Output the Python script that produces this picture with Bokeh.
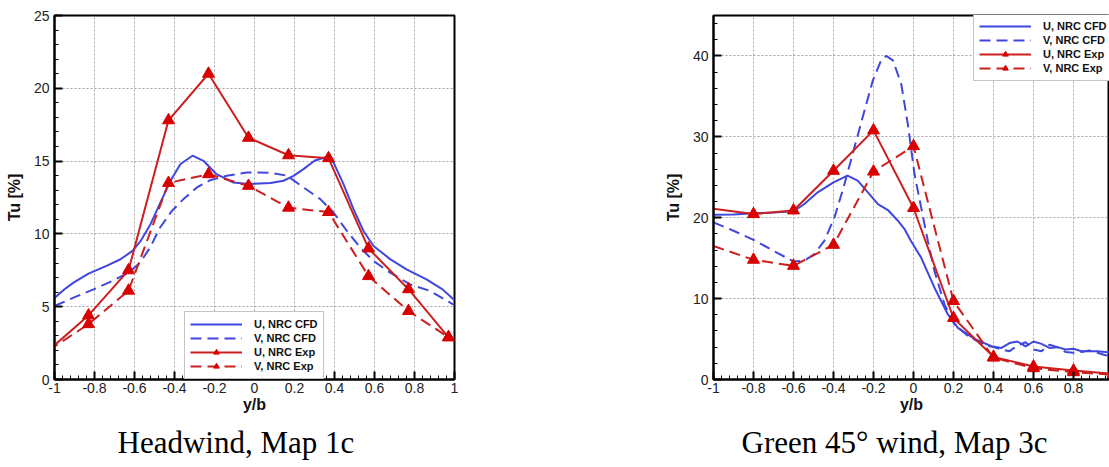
import numpy as np
from bokeh.plotting import figure
from bokeh.models import (Range1d, FixedTicker, NumeralTickFormatter, Legend,
                          LegendItem, Title)
from bokeh.layouts import row
from bokeh.embed import file_html
from bokeh.resources import INLINE

# ---------------- Headwind, Map 1c ----------------
head_exp_x = [-1.03, -0.83, -0.63, -0.43, -0.23, -0.03, 0.17, 0.37, 0.57, 0.77, 0.97]
head_exp_u = [2.0, 4.4, 7.5, 17.8, 21.0, 16.6, 15.4, 15.2, 9.0, 6.2, 2.9]
head_exp_v = [2.0, 3.8, 6.1, 13.5, 14.1, 13.3, 11.8, 11.5, 7.1, 4.7, 2.9]

head_cfd_u_x = [-1.0, -0.95, -0.905, -0.83, -0.74, -0.67, -0.61, -0.57, -0.52, -0.47,
                -0.42, -0.37, -0.31, -0.255, -0.19, -0.105, -0.03, 0.08, 0.145, 0.195,
                0.245, 0.30, 0.35, 0.395, 0.445, 0.495, 0.545, 0.595, 0.68, 0.76,
                0.86, 0.94, 1.0]
head_cfd_u = [5.6, 6.2, 6.65, 7.27, 7.8, 8.26, 8.83, 9.5, 10.67, 12.16,
              13.65, 14.8, 15.37, 15.02, 14.1, 13.53, 13.42, 13.49, 13.65, 13.99,
              14.45, 15.02, 15.25, 14.91, 13.42, 11.7, 10.2, 9.17, 8.25, 7.57,
              6.88, 6.19, 5.45]

head_cfd_v_x = [-1.0, -0.905, -0.805, -0.705, -0.63, -0.572, -0.522, -0.472, -0.413,
                -0.355, -0.288, -0.222, -0.138, -0.038, 0.078, 0.162, 0.245, 0.329,
                0.395, 0.462, 0.529, 0.595, 0.678, 0.778, 0.878, 1.0]
head_cfd_v = [5.05, 5.62, 6.19, 6.81, 7.34, 8.03, 9.06, 10.44, 11.58,
              12.39, 13.19, 13.69, 13.99, 14.22, 14.2, 14.0, 13.19, 12.39,
              11.47, 10.2, 9.06, 8.14, 7.34, 6.53, 6.08, 5.1]

# ---------------- Green 45 deg wind, Map 3c ----------------
green_exp_x = [-1.0, -0.8, -0.6, -0.4, -0.2, 0.0, 0.2, 0.4, 0.6, 0.8, 1.0]
green_exp_u = [21.1, 20.45, 20.9, 25.8, 30.8, 21.2, 7.6, 2.8, 1.6, 1.1, 0.7]
green_exp_v = [16.5, 14.8, 14.05, 16.65, 25.7, 28.85, 9.7, 2.7, 1.4, 0.9, 0.6]

green_cfd_u_x = [-1.0, -0.9, -0.8, -0.7, -0.6, -0.546, -0.479, -0.4, -0.33, -0.279,
                 -0.228, -0.178, -0.128, -0.078, -0.045, -0.012, 0.038, 0.105, 0.172,
                 0.222, 0.305, 0.39, 0.44, 0.48, 0.52, 0.56, 0.60, 0.64, 0.68, 0.72,
                 0.76, 0.80, 0.84, 0.88, 0.92, 0.96, 1.0]
green_cfd_u = [20.37, 20.41, 20.54, 20.66, 20.79, 21.7, 23.14, 24.38, 25.2, 24.59,
               23.14, 21.69, 20.95, 19.63, 18.6, 17.1, 15.07, 11.35, 8.04,
               6.39, 5.02, 4.11, 3.9, 4.5, 4.7, 4.1, 4.7, 4.4, 3.9, 4.0,
               3.7, 3.8, 3.5, 3.5, 3.5, 3.4, 3.3]

green_cfd_v_x = [-1.0, -0.9, -0.8, -0.7, -0.6, -0.546, -0.496, -0.446, -0.395, -0.345,
                 -0.295, -0.245, -0.203, -0.162, -0.137, -0.103, -0.061, -0.028, 0.005,
                 0.038, 0.072, 0.105, 0.155, 0.205, 0.272, 0.355, 0.40, 0.44, 0.48,
                 0.52, 0.56, 0.60, 0.64, 0.68, 0.72, 0.76, 0.80, 0.84, 0.88, 0.92,
                 0.96, 1.0]
green_cfd_v = [19.42, 18.39, 17.27, 15.9, 14.59, 14.67, 15.5, 17.15, 20.04, 24.17,
               28.72, 33.26, 36.98, 39.46, 40.0, 39.46, 36.5, 31.5, 25.4,
               21.3, 17.1, 13.4, 9.29, 6.8, 5.37, 4.25, 4.0, 3.7, 3.5,
               4.2, 4.6, 3.7, 3.5, 4.3, 4.0, 3.4, 3.3, 3.4, 3.6, 3.3,
               3.0, 3.0]

x_ticks = [-1, -0.8, -0.6, -0.4, -0.2, 0, 0.2, 0.4, 0.6, 0.8, 1]
head_y_ticks = [0, 5, 10, 15, 20, 25]
green_y_ticks = [0, 10, 20, 30, 40]

series_labels = ["U, NRC CFD", "V, NRC CFD", "U, NRC Exp", "V, NRC Exp"]
captions = ["Headwind, Map 1c", "Green 45\u00b0 wind, Map 3c"]

BLUE = "#3f47dc"
RED = "#cc1f1f"
MARK = "#d80000"
SANS = "Liberation Sans"


def style_axes(p, y_ticks, y_minor_step, x_end):
    p.xaxis.ticker = FixedTicker(ticks=x_ticks,
                                 minor_ticks=list(np.round(np.arange(-1, x_end + 1e-9, 0.04), 2)))
    p.yaxis.ticker = FixedTicker(ticks=y_ticks,
                                 minor_ticks=list(np.arange(0, y_ticks[-1] + 6, y_minor_step)))
    p.xaxis.formatter = NumeralTickFormatter(format="0.[0]")
    for ax in (p.xaxis[0], p.yaxis[0]):
        ax.major_tick_in = 8
        ax.major_tick_out = 0
        ax.minor_tick_in = 4
        ax.minor_tick_out = 0
        ax.major_tick_line_width = 2
        ax.minor_tick_line_width = 1
        ax.axis_line_width = 2
        ax.major_label_text_font = SANS
        ax.major_label_text_font_size = "14px"
        ax.major_label_text_color = "#222222"
        ax.axis_label_text_font = SANS
        ax.axis_label_text_font_style = "bold"
        ax.axis_label_text_font_size = "16px"
        ax.axis_label_text_color = "#111111"
    p.xaxis.major_label_standoff = 3
    p.xaxis.axis_label_standoff = 0
    p.yaxis.major_label_standoff = 5
    p.yaxis.axis_label_standoff = 8
    p.xaxis.axis_label = "y/b"
    p.yaxis.axis_label = "Tu [%]"
    p.grid.grid_line_color = "#a4a4a4"
    p.grid.grid_line_dash = "2 2"
    p.grid.grid_line_width = 1
    p.outline_line_color = "black"
    p.outline_line_width = 2
    p.outline_line_alpha = 1


def draw_series(p, cu_x, cu, cv_x, cv, ex, eu, ev):
    r_cu = p.line(cu_x, cu, line_color=BLUE, line_width=2)
    r_cv = p.line(cv_x, cv, line_color=BLUE, line_width=2, line_dash="11 6")
    r_eu = p.line(ex, eu, line_color=RED, line_width=2)
    m_eu = p.scatter(ex[1:], eu[1:], marker="triangle", size=12,
                     fill_color=MARK, line_color=MARK)
    r_ev = p.line(ex, ev, line_color=RED, line_width=2, line_dash="11 6")
    m_ev = p.scatter(ex[1:], ev[1:], marker="triangle", size=12,
                     fill_color=MARK, line_color=MARK)
    return [[r_cu], [r_cv], [r_eu, m_eu], [r_ev, m_ev]]


def add_legend(p, groups, loc):
    items = [LegendItem(label=lab, renderers=g) for lab, g in zip(series_labels, groups)]
    leg = Legend(items=items, location=loc)
    leg.label_text_font = SANS
    leg.label_text_font_style = "bold"
    leg.label_text_font_size = "11px"
    leg.label_text_color = "#111111"
    leg.glyph_width = 52
    leg.glyph_height = 14
    leg.label_height = 14
    leg.label_standoff = 12
    leg.padding = 5
    leg.spacing = 0
    leg.margin = 0
    leg.border_line_color = "#8a8a8a"
    leg.border_line_width = 1
    leg.background_fill_color = "white"
    leg.background_fill_alpha = 1.0
    p.add_layout(leg)


def add_caption(p, text, dx):
    p.add_layout(Title(text=text, align="left", offset=dx, standoff=15,
                       text_font="Liberation Serif", text_font_size="31px",
                       text_font_style="normal", text_color="black",
                       text_line_height=1.0), "below")


# Left panel
p1 = figure(frame_width=400, frame_height=364, min_border_left=54, min_border_top=15,
            min_border_right=16, min_border_bottom=88,
            x_range=Range1d(-1, 1), y_range=Range1d(0, 25),
            output_backend="svg", toolbar_location=None,
            background_fill_color="white", border_fill_color="white")
style_axes(p1, head_y_ticks, 1, 1)
g1 = draw_series(p1, head_cfd_u_x, head_cfd_u, head_cfd_v_x, head_cfd_v,
                 head_exp_x, head_exp_u, head_exp_v)
add_legend(p1, g1, (130, 0))
add_caption(p1, captions[0], 63)

# Right panel (runs to the right edge of the page)
p2 = figure(frame_width=396, frame_height=364, min_border_left=243, min_border_top=15,
            min_border_right=0, min_border_bottom=88,
            x_range=Range1d(-1, 0.98), y_range=Range1d(0, 45),
            output_backend="svg", toolbar_location=None,
            background_fill_color="white", border_fill_color="white")
style_axes(p2, green_y_ticks, 2, 1)
g2 = draw_series(p2, green_cfd_u_x, green_cfd_u, green_cfd_v_x, green_cfd_v,
                 green_exp_x, green_exp_u, green_exp_v)
add_legend(p2, g2, (260, 298))
add_caption(p2, captions[1], 28)

layout = row(p1, p2, spacing=0)

with open("out.html", "w") as f:
    f.write(file_html(layout, INLINE))
